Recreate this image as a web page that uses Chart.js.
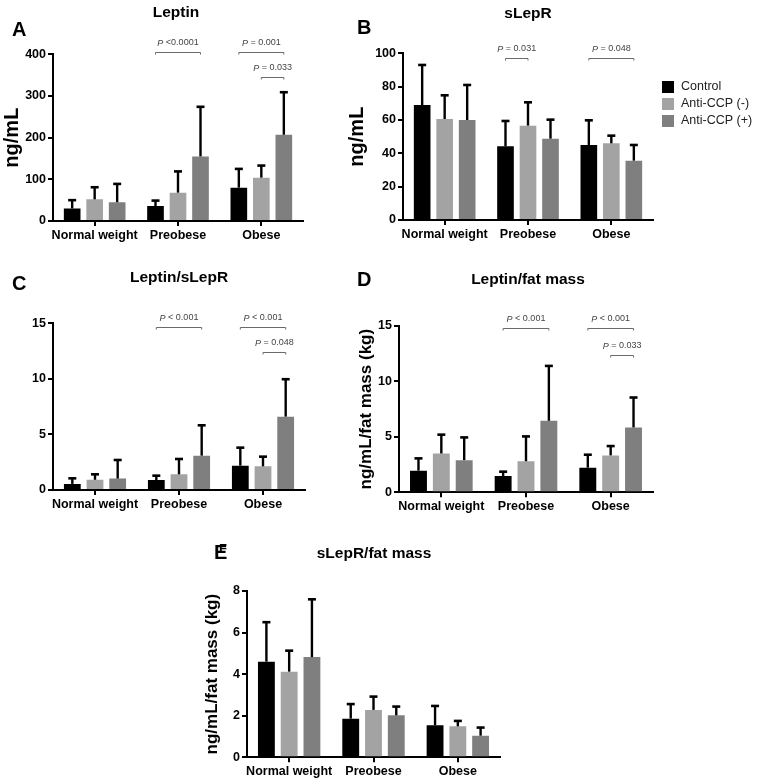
<!DOCTYPE html>
<html><head><meta charset="utf-8">
<script src="https://cdn.jsdelivr.net/npm/chart.js@4.4.1/dist/chart.umd.min.js"></script>
<style>
html,body{margin:0;padding:0;background:#fff;}
#wrap{position:relative;width:778px;height:779px;overflow:hidden;background:#fff;}
canvas{position:absolute;left:0;top:0;}
</style></head><body><div id="wrap">
<canvas id="cA" width="778" height="779"></canvas>
<canvas id="cB" width="778" height="779"></canvas>
<canvas id="cC" width="778" height="779"></canvas>
<canvas id="cD" width="778" height="779"></canvas>
<canvas id="cE" width="778" height="779"></canvas>
</div>
<script>
// ---------- data ----------
const categories = ['Normal weight', 'Preobese', 'Obese'];
const seriesNames = ['Control', 'Anti-CCP (-)', 'Anti-CCP (+)'];

// A: Leptin (ng/mL) — means and upper error ends
const leptinControl = [30, 36, 80];
const leptinNeg = [52, 68, 104];
const leptinPos = [45, 155, 207];
const leptinControlErr = [50, 49, 125];
const leptinNegErr = [81, 119, 133];
const leptinPosErr = [89, 274, 309];
const leptinTicks = [0, 100, 200, 300, 400];

// B: sLepR (ng/mL)
const slepControl = [69, 44.2, 45];
const slepNeg = [60.6, 56.6, 46];
const slepPos = [60, 48.8, 35.6];
const slepControlErr = [93, 59.4, 59.8];
const slepNegErr = [74.8, 70.6, 50.6];
const slepPosErr = [81, 60.2, 45];
const slepTicks = [0, 20, 40, 60, 80, 100];

// C: Leptin/sLepR
const ratioControl = [0.55, 0.9, 2.19];
const ratioNeg = [0.92, 1.41, 2.13];
const ratioPos = [1.03, 3.09, 6.6];
const ratioControlErr = [1.05, 1.29, 3.81];
const ratioNegErr = [1.41, 2.79, 3.0];
const ratioPosErr = [2.7, 5.82, 9.97];
const ratioTicks = [0, 5, 10, 15];

// D: Leptin/fat mass
const lfmControl = [1.95, 1.47, 2.22];
const lfmNeg = [3.5, 2.8, 3.33];
const lfmPos = [2.9, 6.45, 5.85];
const lfmControlErr = [3.06, 1.86, 3.39];
const lfmNegErr = [5.2, 5.04, 4.17];
const lfmPosErr = [4.95, 11.4, 8.55];
const lfmTicks = [0, 5, 10, 15];

// E: sLepR/fat mass
const sfmControl = [4.6, 1.86, 1.54];
const sfmNeg = [4.12, 2.28, 1.49];
const sfmPos = [4.82, 2.02, 1.04];
const sfmControlErr = [6.5, 2.56, 2.47];
const sfmNegErr = [5.13, 2.92, 1.75];
const sfmPosErr = [7.6, 2.44, 1.43];
const sfmTicks = [0, 2, 4, 6, 8];

// significance brackets: category index, series from/to, height in data units, label
const leptinBrackets = [
  {cat: 1, from: 0, to: 2, at: 405, label: ' <0.0001'},
  {cat: 2, from: 0, to: 2, at: 405, label: ' = 0.001'},
  {cat: 2, from: 1, to: 2, at: 345, label: ' = 0.033'}
];
const slepBrackets = [
  {cat: 1, from: 0, to: 1, at: 97.2, label: ' = 0.031'},
  {cat: 2, from: 0, to: 2, at: 97.2, label: ' = 0.048'}
];
const ratioBrackets = [
  {cat: 1, from: 0, to: 2, at: 14.67, label: ' < 0.001'},
  {cat: 2, from: 0, to: 2, at: 14.67, label: ' < 0.001'},
  {cat: 2, from: 1, to: 2, at: 12.42, label: ' = 0.048'}
];
const lfmBrackets = [
  {cat: 1, from: 0, to: 2, at: 14.8, label: ' < 0.001'},
  {cat: 2, from: 0, to: 2, at: 14.8, label: ' < 0.001'},
  {cat: 2, from: 1, to: 2, at: 12.4, label: ' = 0.033'}
];

// ---------- styling ----------
const FONT = "'Liberation Sans', Arial, Helvetica, sans-serif";
const COLORS = ['#000000', '#a3a3a3', '#7f7f7f'];
const XH = 30;
const W = 778, H = 779;

function panelPlugin(o) {
  return {
    id: 'panel' + o.letter,
    afterDatasetsDraw(chart) {
      const ctx = chart.ctx, ys = chart.scales.y;
      ctx.save();
      ctx.strokeStyle = '#000';
      o.errs.forEach((err, i) => {
        const meta = chart.getDatasetMeta(i);
        meta.data.forEach((bar, j) => {
          const x = bar.x, y0 = bar.y, y1 = ys.getPixelForValue(err[j]);
          ctx.lineWidth = 2.4;
          ctx.beginPath(); ctx.moveTo(x, y0); ctx.lineTo(x, y1); ctx.stroke();
          ctx.lineWidth = 2.6;
          ctx.beginPath(); ctx.moveTo(x - 4, y1); ctx.lineTo(x + 4, y1); ctx.stroke();
        });
      });
      ctx.restore();
    },
    afterDraw(chart) {
      const ctx = chart.ctx, ys = chart.scales.y;
      ctx.save();
      // brackets
      (o.brackets || []).forEach(b => {
        const x1 = chart.getDatasetMeta(b.from).data[b.cat].x;
        const x2 = chart.getDatasetMeta(b.to).data[b.cat].x;
        const y = Math.round(ys.getPixelForValue(b.at)) + 0.5;
        ctx.strokeStyle = '#6a6a6a'; ctx.lineWidth = 1;
        ctx.beginPath();
        ctx.moveTo(x1, y + 2); ctx.lineTo(x1, y); ctx.lineTo(x2, y); ctx.lineTo(x2, y + 2);
        ctx.stroke();
        ctx.fillStyle = '#444';
        ctx.textBaseline = 'middle'; ctx.textAlign = 'left';
        ctx.font = 'italic 9px ' + FONT;
        const wP = ctx.measureText('P').width;
        ctx.font = '9px ' + FONT;
        const wR = ctx.measureText(b.label).width;
        const sx = (x1 + x2) / 2 - (wP + wR) / 2;
        ctx.font = 'italic 9px ' + FONT;
        ctx.fillText('P', sx, y - 9.5);
        ctx.font = '9px ' + FONT;
        ctx.fillText(b.label, sx + wP, y - 9.5);
      });
      // panel title
      ctx.fillStyle = '#000';
      ctx.textAlign = 'center'; ctx.textBaseline = 'middle';
      ctx.font = 'bold 15.5px ' + FONT;
      ctx.fillText(o.title, o.titlePos[0], o.titlePos[1]);
      // panel letter
      ctx.textAlign = 'left';
      ctx.font = 'bold 20px ' + FONT;
      ctx.fillText(o.letter, o.letterPos[0], o.letterPos[1]);
      if (o.extraLetter) {
        ctx.font = 'bold 13px ' + FONT;
        ctx.fillText(o.extraLetter, o.letterPos[0] + 5, o.letterPos[1] - 4);
      }
      // legend
      if (o.legend) {
        const [lx, ly, dy] = o.legend;
        ctx.font = '12.5px ' + FONT;
        ctx.textBaseline = 'middle';
        seriesNames.forEach((n, i) => {
          ctx.fillStyle = COLORS[i];
          ctx.fillRect(lx, ly + i * dy - 6, 12, 12);
          ctx.fillStyle = '#222';
          ctx.fillText(n, lx + 19, ly + i * dy);
        });
      }
      ctx.restore();
    }
  };
}

function makePanel(id, o) {
  const a = o.area;
  const ts = o.yTitleSize || 17;
  const P = o.yTitle ? o.yTitleX - ts * 1.2 / 2 : 0;
  const tickFont = {family: FONT, size: 12.5, weight: 'bold'};
  new Chart(document.getElementById(id), {
    type: 'bar',
    data: {
      labels: categories,
      datasets: o.values.map((v, i) => ({
        label: seriesNames[i], data: v, backgroundColor: COLORS[i],
        borderWidth: 0, categoryPercentage: 0.81, barPercentage: 0.74
      }))
    },
    options: {
      responsive: false, animation: false, devicePixelRatio: 1,
      layout: {padding: {left: P, top: a.t, right: W - a.r, bottom: H - a.b - XH}},
      plugins: {legend: {display: false}, tooltip: {enabled: false}, title: {display: false}},
      scales: {
        x: {
          grid: {display: true, drawOnChartArea: false, offset: false, drawTicks: true,
                 tickLength: 5, tickWidth: 2, tickColor: '#000', lineWidth: 2, color: '#000'},
          border: {display: true, color: '#000', width: 2},
          ticks: {color: '#000', font: tickFont, padding: 2, maxRotation: 0, autoSkip: false},
          afterFit(s) { s.height = XH; }
        },
        y: {
          min: 0, max: o.ticks[o.ticks.length - 1],
          afterBuildTicks(s) { s.ticks = o.ticks.map(v => ({value: v})); },
          grid: {display: true, drawOnChartArea: false, drawTicks: true,
                 tickLength: 5, tickWidth: 2, tickColor: '#000', lineWidth: 2, color: '#000'},
          border: {display: true, color: '#000', width: 2},
          ticks: {color: '#000', font: tickFont, padding: 2},
          title: o.yTitle ? {display: true, text: o.yTitle, color: '#000',
                 font: {family: FONT, size: ts, weight: 'bold'}, padding: 0} : {display: false},
          afterFit(s) { s.width = a.l - P; }
        }
      }
    },
    plugins: [panelPlugin(o)]
  });
}

makePanel('cA', {
  letter: 'A', letterPos: [12, 30], title: 'Leptin', titlePos: [176, 13],
  area: {l: 53, t: 54.3, r: 303, b: 221},
  values: [leptinControl, leptinNeg, leptinPos],
  errs: [leptinControlErr, leptinNegErr, leptinPosErr],
  ticks: leptinTicks, yTitle: 'ng/mL', yTitleX: 12, yTitleSize: 20, brackets: leptinBrackets
});
makePanel('cB', {
  letter: 'B', letterPos: [357, 28], title: 'sLepR', titlePos: [528, 14],
  area: {l: 403, t: 53.3, r: 653, b: 220},
  values: [slepControl, slepNeg, slepPos],
  errs: [slepControlErr, slepNegErr, slepPosErr],
  ticks: slepTicks, yTitle: 'ng/mL', yTitleX: 357, yTitleSize: 20, brackets: slepBrackets,
  legend: [662, 87, 17]
});
makePanel('cC', {
  letter: 'C', letterPos: [12, 284], title: 'Leptin/sLepR', titlePos: [179, 278],
  area: {l: 53, t: 323.3, r: 305, b: 490},
  values: [ratioControl, ratioNeg, ratioPos],
  errs: [ratioControlErr, ratioNegErr, ratioPosErr],
  ticks: ratioTicks, brackets: ratioBrackets
});
makePanel('cD', {
  letter: 'D', letterPos: [357, 280], title: 'Leptin/fat mass', titlePos: [528, 280],
  area: {l: 399, t: 326, r: 653, b: 492.3},
  values: [lfmControl, lfmNeg, lfmPos],
  errs: [lfmControlErr, lfmNegErr, lfmPosErr],
  ticks: lfmTicks, yTitle: 'ng/mL/fat mass (kg)', yTitleX: 366, brackets: lfmBrackets
});
makePanel('cE', {
  letter: 'E', extraLetter: 'F', letterPos: [214, 553], title: 'sLepR/fat mass', titlePos: [374, 554],
  area: {l: 247, t: 591, r: 500, b: 757.3},
  values: [sfmControl, sfmNeg, sfmPos],
  errs: [sfmControlErr, sfmNegErr, sfmPosErr],
  ticks: sfmTicks, yTitle: 'ng/mL/fat mass (kg)', yTitleX: 212
});
</script>
</body></html>
